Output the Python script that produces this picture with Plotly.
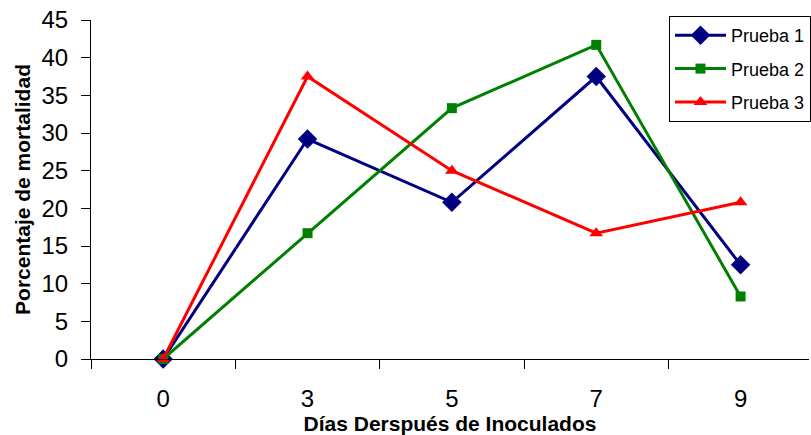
import plotly.graph_objects as go

dias = ["0", "3", "5", "7", "9"]
prueba1 = [0, 29.2, 20.8, 37.5, 12.5]
prueba2 = [0, 16.7, 33.3, 41.7, 8.3]
prueba3 = [0, 37.5, 25.0, 16.7, 20.8]

FONT = "Arial, 'Liberation Sans', sans-serif"

fig = go.Figure()
series = [
    ("Prueba 1", prueba1, "#000080", "diamond", 15),
    ("Prueba 2", prueba2, "#008000", "square", 10),
    ("Prueba 3", prueba3, "#FF0000", "triangle-up", 12),
]
for i, (name, vals, col, sym, sz) in enumerate(series):
    fig.add_trace(go.Scatter(
        x=dias, y=vals, name=name, mode="lines+markers",
        line=dict(color=col, width=3),
        marker=dict(color=col, symbol=sym, size=sz),
        legendgroup=f"g{i}", cliponaxis=False,
    ))

fig.update_layout(
    width=811, height=435,
    margin=dict(l=91, r=0, t=20, b=76),
    paper_bgcolor="white", plot_bgcolor="white",
    font=dict(family=FONT, color="black"),
    showlegend=True,
    legend=dict(
        x=(671 - 91) / 720, y=(359 - 16) / 339, xanchor="left", yanchor="top",
        bordercolor="black", borderwidth=1, bgcolor="white",
        font=dict(size=18, family=FONT), itemwidth=51, tracegroupgap=7,
        traceorder="grouped",
    ),
    xaxis=dict(
        type="category", range=[-0.5, 4.474],
        showline=True, linecolor="black", linewidth=1,
        ticks="outside", ticklen=9, tickcolor="black", tickson="boundaries",
        showgrid=False, zeroline=False,
        tickfont=dict(size=24), ticklabelstandoff=18,
        title=dict(text="<b>Días Derspués de Inoculados</b>", font=dict(size=21), standoff=1),
    ),
    yaxis=dict(
        range=[0, 45], tickvals=[0, 5, 10, 15, 20, 25, 30, 35, 40, 45],
        showline=True, linecolor="black", linewidth=1,
        ticks="outside", ticklen=9, tickcolor="black",
        showgrid=False, zeroline=False,
        tickfont=dict(size=24), ticklabelstandoff=8,
        title=dict(text="<b>Porcentaje de mortalidad</b>", font=dict(size=21), standoff=5),
    ),
)

fig.write_html("out.html")
